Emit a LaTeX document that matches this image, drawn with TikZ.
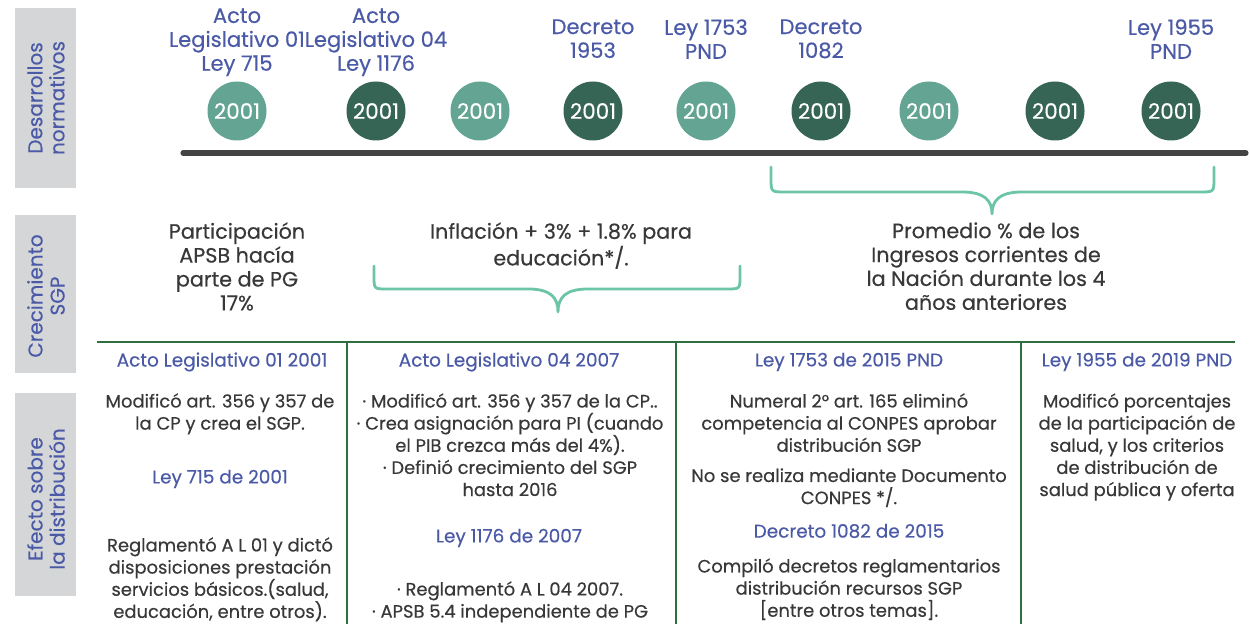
\documentclass[tikz,border=0pt]{standalone}
\usepackage{fontspec}
\setmainfont{Poppins}[FakeBold=0.4]
\definecolor{bluetxt}{HTML}{4B5AA6}
\definecolor{graytxt}{HTML}{383838}
\definecolor{lightc}{HTML}{63A592}
\definecolor{darkc}{HTML}{366556}
\definecolor{tline}{HTML}{444444}
\definecolor{bracec}{HTML}{6CC5A5}
\definecolor{tgreen}{HTML}{2F6E40}
\definecolor{boxgray}{HTML}{D5D6D8}
\tikzset{
  sidebox/.style={fill=boxgray,draw=none},
  sidelabel/.style={text=bluetxt,align=center,rotate=90,font=\fontsize{11.4}{12.6}\selectfont,inner sep=0pt},
  yearc/.style={circle,minimum size=59*0.02cm,inner sep=0pt,text=white,font=\fontsize{12.2}{13}\selectfont},
  lyear/.style={yearc,fill=lightc},
  dyear/.style={yearc,fill=darkc},
  toplabel/.style={text=bluetxt,align=center,font=\fontsize{12}{13.6}\selectfont,inner sep=0pt,anchor=north},
  growth/.style={text=graytxt,align=center,font=\fontsize{11.8}{13.6}\selectfont,inner sep=0pt,anchor=north},
  colhead/.style={text=bluetxt,align=center,font=\fontsize{10.5}{12.4}\selectfont,inner sep=0pt},
  body/.style={text=graytxt,align=center,font=\fontsize{10.2}{12.6}\selectfont,inner sep=0pt,anchor=north},
  bracepath/.style={draw=bracec,line width=1.6pt,line cap=round,line join=round},
  tableline/.style={draw=tgreen,line width=1.2pt},
}
\begin{document}
\begin{tikzpicture}[x=0.02cm,y=-0.02cm]
\useasboundingbox (0,0) rectangle (1250,624);
% side boxes
\fill[sidebox] (15,8) rectangle (76,188);
\fill[sidebox] (15,215) rectangle (76,373);
\fill[sidebox] (15,393) rectangle (76,596);
\node[sidelabel] (s1) at (46,98) {Desarrollos\\normativos};
\node[sidelabel] (s2) at (46,296) {Crecimiento\\SGP};
\node[sidelabel] (s3) at (46,499) {Efecto sobre\\la distribución};
% timeline
\coordinate (tl0) at (183,153);
\coordinate (tl1) at (1246,153);
\draw[tline,line width=2.9pt,line cap=round] (tl0) -- (tl1);
% circles
\node[lyear] (c1) at (237,111) {2001};
\node[dyear] (c2) at (376,111) {2001};
\node[lyear] (c3) at (480,111) {2001};
\node[dyear] (c4) at (593,111) {2001};
\node[lyear] (c5) at (706,111) {2001};
\node[dyear] (c6) at (821,111) {2001};
\node[lyear] (c7) at (929,111) {2001};
\node[dyear] (c8) at (1055,111) {2001};
\node[dyear] (c9) at (1171,111) {2001};
% top labels
\node[toplabel] (l1) at (237,8) {Acto\\Legislativo 01\\Ley 715};
\node[toplabel] (l2) at (376,8) {Acto\\Legislativo 04\\Ley 1176};
\node[toplabel] (l4) at (593,19) {Decreto\\1953};
\node[toplabel] (l5) at (706,19) {Ley 1753\\PND};
\node[toplabel] (l6) at (821,19) {Decreto\\1082};
\node[toplabel] (l9) at (1171,19) {Ley 1955\\PND};
% braces
\draw[bracepath] (771,167) -- (771,178) .. controls (771,192) .. (785,192) -- (962,192)
  .. controls (984,192) and (992,200) .. (992,214)
  .. controls (992,200) and (1000,192) .. (1022,192) -- (1200,192)
  .. controls (1214,192) .. (1214,178) -- (1214,167);
\draw[bracepath] (374,266) -- (374,276) .. controls (374,289) .. (387,289) -- (528,289)
  .. controls (550,289) and (558,297) .. (558,312)
  .. controls (558,297) and (566,289) .. (588,289) -- (727,289)
  .. controls (740,289) .. (740,276) -- (740,266);
% growth texts
\node[growth] (g1) at (237,222) {Participación\\APSB hacía\\parte de PG\\17\%};
\node[growth] (g2) at (561,222) {Inflación + 3\% + 1.8\% para\\educación*/.};
\node[growth] (g3) at (986,222) {Promedio \% de los\\Ingresos corrientes de\\la Nación durante los 4\\años anteriores};
% table
\draw[tableline] (97,342) -- (1235,342);
\draw[tableline] (347,342) -- (347,624);
\draw[tableline] (676,342) -- (676,624);
\draw[tableline] (1021,342) -- (1021,624);
% column 1
\node[colhead] (h1) at (222,362) {Acto Legislativo 01 2001};
\node[body] (b1a) at (220,393) {Modificó art. 356 y 357 de\\la CP y crea el SGP.};
\node[colhead] (h1b) at (220,479) {Ley 715 de 2001};
\node[body] (b1b) at (220,537) {Reglamentó A L 01 y dictó\\disposiciones prestación\\servicios básicos.(salud,\\educación, entre otros).};
% column 2
\node[colhead] (h2) at (509,362) {Acto Legislativo 04 2007};
\node[body] (b2a) at (510,393) {· Modificó art. 356 y 357 de la CP..\\· Crea asignación para PI (cuando\\el PIB crezca más del 4\%).\\· Definió crecimiento del SGP\\hasta 2016};
\node[colhead] (h2b) at (509,538) {Ley 1176 de 2007};
\node[body] (b2b) at (510,581) {· Reglamentó A L 04 2007.\\· APSB 5.4 independiente de PG};
% column 3
\node[colhead] (h3) at (849,362) {Ley 1753 de 2015 PND};
\node[body] (b3a) at (849,393) {Numeral 2° art. 165 eliminó\\competencia al CONPES aprobar\\distribución SGP};
\node[body] (b3b) at (849,468) {No se realiza mediante Documento\\CONPES */.};
\node[colhead] (h3b) at (849,531) {Decreto 1082 de 2015};
\node[body] (b3c) at (849,558) {Compiló decretos reglamentarios\\distribución recursos SGP\\{[entre otros temas]}.};
% column 4
\node[colhead] (h4) at (1137,362) {Ley 1955 de 2019 PND};
\node[body] (b4a) at (1137,393) {Modificó porcentajes\\de la participación de\\salud, y los criterios\\de distribución de\\salud pública y oferta};
\end{tikzpicture}
\end{document}
